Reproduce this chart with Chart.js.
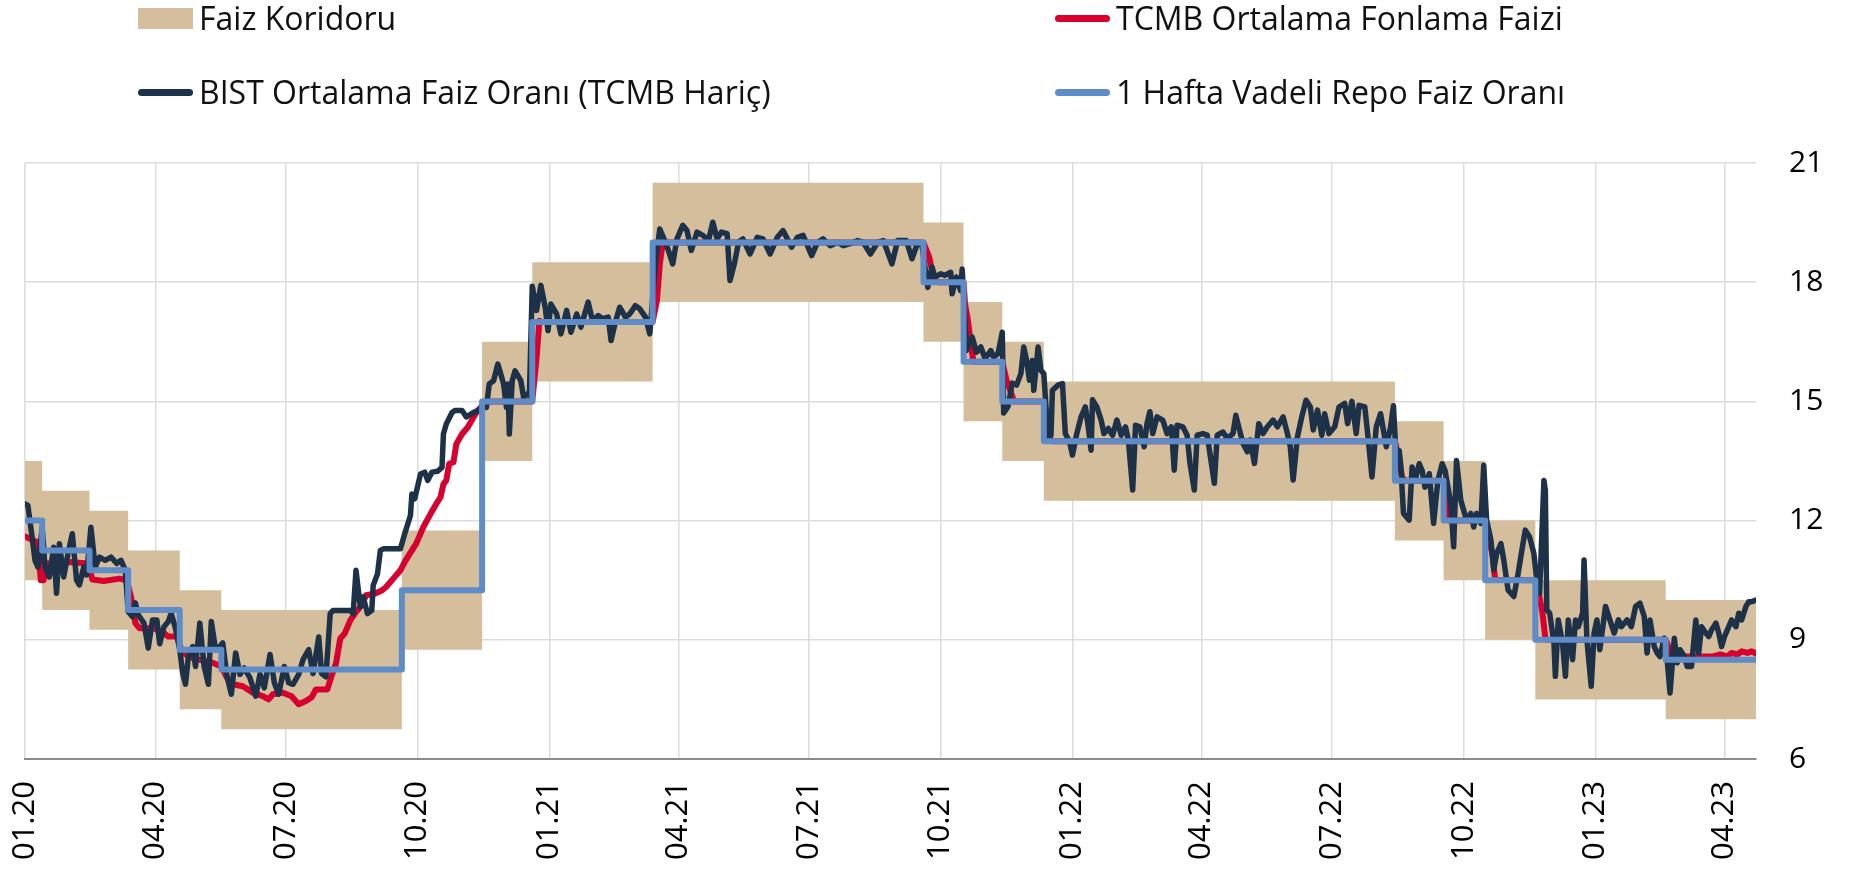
<!DOCTYPE html>
<html lang="tr">
<head>
<meta charset="utf-8">
<title>Faiz Koridoru ve Piyasa Faizleri</title>
<script src="https://cdn.jsdelivr.net/npm/chart.js@4.4.1/dist/chart.umd.min.js"></script>
<style>
    html, body { margin: 0; padding: 0; background: #fff; }
    body { width: 1864px; height: 872px; position: relative; overflow: hidden; font-family: "Open Sans", sans-serif; }
    #chart { position: absolute; left: 0; top: 0; }
    #legend { position: absolute; left: 0; top: 0; width: 1864px; height: 130px; }
    .item { position: absolute; display: flex; align-items: center; height: 36px; font-size: 32px; line-height: 36px; color: #111; white-space: nowrap; }
    .item:nth-child(1) { left: 138px; top: 0px; }
    .item:nth-child(2) { left: 1055px; top: 0px; }
    .item:nth-child(3) { left: 138px; top: 74px; }
    .item:nth-child(4) { left: 1055px; top: 74px; }
    .sw { width: 55px; margin-right: 6px; flex: none; }
    .sw.box { height: 21px; }
    .sw.line { height: 7px; border-radius: 4px; }
</style>
</head>
<body>
<canvas id="chart" width="1864" height="872"></canvas>
<div id="legend"></div>
<script>
/* ---------- Axis ---------- */
// x values are days counted from 01.01.2020
const xTickDays = [0, 91, 182, 274, 366, 456, 547, 639, 731, 821, 912, 1004, 1096, 1186];
const xTickLabels = ["01.20", "04.20", "07.20", "10.20", "01.21", "04.21", "07.21", "10.21",
                     "01.22", "04.22", "07.22", "10.22", "01.23", "04.23"];
const X_END = 1208;

/* ---------- Policy rate and corridor ---------- */
const stepDay = [0, 12, 45, 72, 108, 137, 263, 319, 354, 438, 627, 655, 682, 711, 956, 990, 1019, 1054, 1145, 1208];
const repoRate = [12, 11.25, 10.75, 9.75, 8.75, 8.25, 10.25, 15, 17, 19, 18, 16, 15, 14, 13, 12, 10.5, 9, 8.5, 8.5];
const corridorLow = [10.5, 9.75, 9.25, 8.25, 7.25, 6.75, 8.75, 13.5, 15.5, 17.5, 16.5, 14.5, 13.5, 12.5, 11.5, 10.5, 9, 7.5, 7, 7];
const corridorHigh = [13.5, 12.75, 12.25, 11.25, 10.25, 9.75, 11.75, 16.5, 18.5, 20.5, 19.5, 17.5, 16.5, 15.5, 14.5, 13.5, 12, 10.5, 10, 10];

/* ---------- TCMB average funding rate ---------- */
const tcmbDay = [0, 9, 11, 13, 16, 31, 44, 47, 55, 66, 71, 74, 77, 80, 90, 97, 100, 106, 110, 117,
    131, 137, 141, 145, 152, 159, 166, 170, 173, 180, 186, 191, 196, 200, 203, 211, 214, 217, 220, 223,
    227, 231, 235, 238, 244, 249, 252, 257, 262, 265, 270, 273, 278, 283, 287, 290, 292, 294, 296, 299,
    301, 305, 309, 313, 315, 319, 322, 354, 357, 359, 361, 438, 441, 443, 445, 446, 627, 631, 633, 635,
    637, 655, 656, 658, 661, 662, 682, 685, 689, 690, 711, 713, 715, 717, 956, 959, 961, 963, 990, 992,
    994, 1019, 1021, 1024, 1026, 1054, 1056, 1059, 1061, 1062, 1145, 1146, 1149, 1178, 1183, 1188, 1191, 1195, 1198, 1202,
    1205, 1208];
const tcmbRate = [11.6, 11.45, 10.5, 10.5, 10.92, 10.96, 10.92, 10.52, 10.48, 10.54, 10.5, 10.08, 9.42, 9.29, 9.29, 9.17, 9.08, 9.08, 8.67, 8.54,
    8.42, 8.33, 8.04, 7.88, 7.83, 7.67, 7.58, 7.5, 7.63, 7.67, 7.58, 7.38, 7.46, 7.55, 7.75, 7.75, 8.1, 8.4, 9.03, 9.15,
    9.49, 9.7, 9.87, 10.12, 10.16, 10.24, 10.33, 10.54, 10.75, 10.96, 11.25, 11.42, 11.84, 12.17, 12.42, 12.59, 12.92, 13.01, 13.43, 13.47,
    13.93, 14.18, 14.35, 14.6, 14.72, 14.89, 15, 15, 16.1, 17.03, 17, 17, 17.54, 18.46, 18.97, 19, 19, 18.63, 18.29, 18.04,
    18, 18, 17.46, 17.04, 16.2, 16, 16, 15.53, 15.13, 15, 15, 14.36, 14.07, 14, 14, 13.52, 13.1, 13, 13, 12.4,
    12, 12, 11.59, 11.17, 10.51, 10.5, 10.25, 9.67, 9.04, 9, 9, 8.92, 8.58, 8.58, 8.63, 8.58, 8.67, 8.63, 8.71, 8.67,
    8.71, 8.65];

/* ---------- BIST average rate (excl. TCMB) ---------- */
const bistDay = [0, 2, 5, 7, 9, 12, 14, 17, 20, 22, 24, 27, 30, 33, 36, 38, 41, 43, 46, 49,
    52, 56, 60, 64, 67, 70, 72, 75, 77, 79, 83, 86, 89, 92, 94, 97, 100, 102, 105, 108,
    110, 112, 114, 117, 119, 122, 125, 128, 130, 133, 136, 138, 141, 144, 147, 150, 153, 157, 161, 164,
    167, 171, 174, 177, 181, 184, 187, 191, 194, 198, 201, 205, 207, 210, 213, 215, 227, 229, 231, 234,
    236, 239, 242, 243, 246, 248, 250, 262, 265, 269, 270, 272, 276, 279, 281, 284, 288, 291, 292, 294,
    298, 300, 305, 308, 312, 318, 320, 322, 324, 327, 330, 334, 336, 337, 338, 340, 342, 346, 348, 350,
    352, 354, 357, 360, 363, 365, 367, 371, 374, 378, 381, 385, 388, 393, 396, 400, 403, 407, 409, 412,
    415, 419, 422, 426, 429, 433, 436, 437, 440, 443, 447, 449, 452, 455, 459, 462, 465, 469, 473, 477,
    480, 483, 486, 490, 492, 495, 498, 501, 506, 511, 515, 520, 525, 529, 535, 539, 543, 549, 553, 557,
    562, 567, 571, 576, 581, 585, 590, 595, 599, 605, 609, 615, 619, 623, 626, 630, 633, 635, 639, 642,
    646, 647, 650, 653, 654, 655, 657, 661, 664, 667, 670, 674, 676, 679, 682, 683, 686, 689, 692, 695,
    697, 699, 701, 703, 704, 707, 709, 711, 714, 716, 717, 721, 724, 726, 729, 731, 734, 737, 740, 742,
    744, 745, 748, 751, 753, 756, 759, 762, 765, 768, 770, 773, 775, 778, 781, 783, 785, 787, 790, 794,
    797, 800, 802, 804, 808, 811, 813, 816, 818, 822, 825, 830, 832, 836, 839, 843, 845, 847, 850, 853,
    855, 858, 861, 864, 867, 871, 874, 878, 881, 883, 885, 888, 891, 894, 897, 899, 902, 905, 907, 910,
    914, 917, 921, 923, 926, 929, 931, 935, 937, 940, 943, 946, 950, 953, 955, 957, 959, 960, 962, 966,
    968, 970, 973, 975, 977, 980, 983, 986, 989, 991, 995, 997, 999, 1002, 1004, 1006, 1009, 1011, 1013, 1016,
    1018, 1020, 1023, 1025, 1027, 1030, 1032, 1035, 1039, 1042, 1045, 1047, 1050, 1053, 1055, 1057, 1060, 1061, 1062, 1064,
    1067, 1068, 1070, 1073, 1075, 1077, 1080, 1082, 1084, 1087, 1088, 1090, 1093, 1095, 1097, 1099, 1103, 1106, 1109, 1112,
    1114, 1118, 1121, 1124, 1127, 1130, 1132, 1134, 1137, 1139, 1141, 1144, 1146, 1148, 1151, 1153, 1155, 1158, 1160, 1163,
    1166, 1168, 1170, 1173, 1175, 1177, 1180, 1182, 1184, 1186, 1189, 1191, 1194, 1196, 1198, 1201, 1203, 1205, 1208];
const bistRate = [12.42, 12.38, 11.58, 11.0, 10.83, 11.83, 10.83, 10.58, 11.33, 10.17, 11.42, 10.58, 11.17, 11.67, 10.5, 10.38, 10.83, 10.63, 11.83, 10.83,
    11.08, 11.0, 11.08, 10.92, 11.0, 10.75, 9.71, 9.58, 9.93, 9.63, 9.42, 8.79, 9.5, 9.5, 8.9, 9.33, 9.46, 9.67, 9.29, 8.75,
    8.17, 7.88, 8.58, 8.83, 8.33, 9.42, 8.33, 7.88, 9.46, 8.75, 8.83, 8.92, 8.08, 7.63, 8.67, 8.13, 8.29, 8.04, 7.58, 8.13,
    7.79, 8.63, 7.92, 7.63, 8.33, 7.92, 7.88, 8.13, 8.5, 8.75, 8.15, 9.07, 8.15, 8.07, 9.66, 9.74, 9.74, 9.66, 10.75, 9.83,
    10.08, 9.66, 9.74, 10.37, 10.66, 11.25, 11.29, 11.29, 11.67, 12.13, 12.67, 12.55, 13.17, 13.22, 13.01, 13.22, 13.24, 13.34, 14.18, 14.43,
    14.72, 14.77, 14.77, 14.61, 14.7, 14.81, 14.97, 14.85, 15.44, 15.52, 15.94, 15.44, 14.85, 15.44, 14.18, 15.52, 15.77, 15.52, 15.1, 15.18,
    15.15, 17.9, 17.29, 17.92, 17.37, 16.78, 17.45, 17.2, 16.7, 17.29, 16.74, 17.2, 16.87, 17.5, 17.03, 17.16, 17.08, 17.12, 16.53, 17.0,
    17.37, 17.12, 17.2, 17.41, 17.33, 17.12, 16.7, 17.12, 18.5, 19.34, 19.0, 18.8, 18.46, 19.09, 19.43, 19.3, 18.8, 19.26, 19.18, 19.05,
    19.51, 19.09, 19.26, 19.22, 18.04, 18.46, 19.01, 19.09, 18.71, 19.13, 19.09, 18.71, 19.13, 19.3, 18.88, 19.13, 19.18, 18.67, 19.0, 19.09,
    18.92, 19.0, 18.92, 18.97, 19.05, 19.0, 18.71, 19.0, 19.05, 18.46, 19.05, 19.05, 18.59, 19.0, 18.92, 17.87, 18.38, 18.13, 18.21, 18.17,
    18.25, 17.71, 18.13, 17.79, 18.33, 17.71, 16.28, 16.62, 16.24, 16.37, 16.08, 16.28, 16.12, 16.2, 16.74, 14.71, 14.87, 15.46, 15.41, 15.7,
    16.37, 16.03, 15.53, 16.03, 15.28, 16.37, 15.78, 15.7, 14.03, 14.15, 15.28, 15.41, 15.45, 14.19, 13.98, 13.65, 14.19, 14.61, 14.86, 14.36,
    13.77, 15.04, 14.86, 14.53, 14.19, 14.32, 14.15, 14.53, 14.15, 14.36, 14.03, 12.77, 14.4, 14.36, 13.86, 14.44, 14.74, 14.19, 14.61, 14.53,
    14.19, 14.36, 13.27, 14.4, 14.36, 14.15, 13.44, 12.77, 14.15, 14.19, 14.15, 12.94, 14.15, 14.23, 14.07, 14.19, 14.65, 14.36, 13.94, 13.73,
    14.03, 13.44, 14.44, 14.19, 14.36, 14.53, 14.36, 14.61, 14.19, 13.86, 13.02, 14.11, 14.61, 15.03, 14.86, 14.28, 14.78, 14.15, 14.69, 14.19,
    14.36, 14.86, 14.95, 14.44, 15.0, 14.19, 14.9, 14.86, 14.19, 13.1, 14.36, 14.69, 13.86, 14.36, 14.89, 13.51, 13.76, 13.43, 12.18, 12.01,
    13.35, 13.01, 13.43, 13.26, 12.84, 13.18, 11.93, 13.01, 13.43, 13.26, 12.43, 11.34, 13.51, 12.51, 12.26, 12.01, 12.18, 11.84, 12.18, 11.93,
    13.39, 12.01, 11.51, 10.76, 11.17, 11.42, 11.0, 10.25, 10.09, 10.67, 11.34, 11.76, 11.59, 11.17, 10.51, 10.17, 13.01, 12.76, 9.75, 9.67,
    8.92, 8.08, 9.5, 8.92, 8.08, 9.5, 8.5, 9.5, 9.33, 9.67, 11.01, 9.0, 7.83, 9.17, 9.5, 8.75, 9.84, 9.5, 9.17, 9.5,
    9.33, 9.5, 9.33, 9.84, 9.92, 9.59, 8.67, 9.5, 8.83, 8.67, 8.58, 9.04, 8.5, 7.66, 9.04, 8.42, 8.75, 8.58, 8.33, 8.33,
    9.5, 8.67, 9.33, 9.17, 9.08, 9.25, 9.42, 9.17, 8.83, 9.08, 9.33, 9.5, 9.33, 9.67, 9.5, 9.84, 9.96, 9.96, 10.0];

/* ---------- Colours ---------- */
const COL = {
    corridor: "#d4be9b",
    tcmb: "#d7002f",
    bist: "#1d3148",
    repo: "#5e8cc8",
    grid: "#dcdcdc",
    axis: "#8c8c8c"
};

const pts = (days, vals) => days.map((d, i) => ({ x: d, y: vals[i] }));
const FONT = "'Open Sans', sans-serif";

const chart = new Chart(document.getElementById("chart"), {
    type: "line",
    data: {
        datasets: [
            { label: "corridor-low", data: pts(stepDay, corridorLow), stepped: true,
              borderWidth: 0, pointRadius: 0, fill: false, order: 5 },
            { label: "Faiz Koridoru", data: pts(stepDay, corridorHigh), stepped: true,
              borderWidth: 0, pointRadius: 0, fill: "-1", backgroundColor: COL.corridor,
              borderColor: COL.corridor, order: 5 },
            { label: "TCMB Ortalama Fonlama Faizi", data: pts(tcmbDay, tcmbRate),
              borderColor: COL.tcmb, borderWidth: 6, pointRadius: 0, order: 3 },
            { label: "BIST Ortalama Faiz Oranı (TCMB Hariç)", data: pts(bistDay, bistRate),
              borderColor: COL.bist, borderWidth: 5.5, pointRadius: 0, order: 2 },
            { label: "1 Hafta Vadeli Repo Faiz Oranı", data: pts(stepDay, repoRate), stepped: true,
              borderColor: COL.repo, borderWidth: 6, pointRadius: 0, order: 1 }
        ]
    },
    options: {
        responsive: false,
        animation: false,
        devicePixelRatio: 1,
        events: [],
        elements: { line: { tension: 0, borderJoinStyle: "round", borderCapStyle: "round" } },
        layout: { padding: { left: 25, right: 0, top: 163, bottom: 0 } },
        plugins: { legend: { display: false }, tooltip: { enabled: false } },
        scales: {
            x: {
                type: "linear",
                min: 0,
                max: X_END,
                afterBuildTicks: axis => { axis.ticks = xTickDays.map(v => ({ value: v })); },
                afterFit: axis => { axis.height = 113; },
                ticks: {
                    autoSkip: false,
                    minRotation: 90,
                    maxRotation: 90,
                    padding: 22,
                    color: "#000",
                    font: { family: FONT, size: 31 },
                    callback: v => xTickLabels[xTickDays.indexOf(v)]
                },
                grid: { color: COL.grid, lineWidth: 1.5, drawTicks: false },
                border: { display: true, color: COL.axis, width: 2 }
            },
            y: {
                position: "right",
                min: 6,
                max: 21,
                afterFit: axis => { axis.width = 108; },
                ticks: { stepSize: 3, padding: 33, color: "#000", font: { family: FONT, size: 30 } },
                grid: { color: COL.grid, lineWidth: 1.5, drawTicks: false },
                border: { display: false }
            }
        }
    }
});

/* ---------- Legend ---------- */
const legendEl = document.getElementById("legend");
chart.data.datasets.slice(1).forEach(ds => {
    const item = document.createElement("div");
    item.className = "item";
    const sw = document.createElement("span");
    const isBox = ds.fill === "-1";
    sw.className = "sw " + (isBox ? "box" : "line");
    sw.style.background = isBox ? ds.backgroundColor : ds.borderColor;
    item.appendChild(sw);
    item.appendChild(document.createTextNode(ds.label));
    legendEl.appendChild(item);
});
</script>
</body>
</html>
